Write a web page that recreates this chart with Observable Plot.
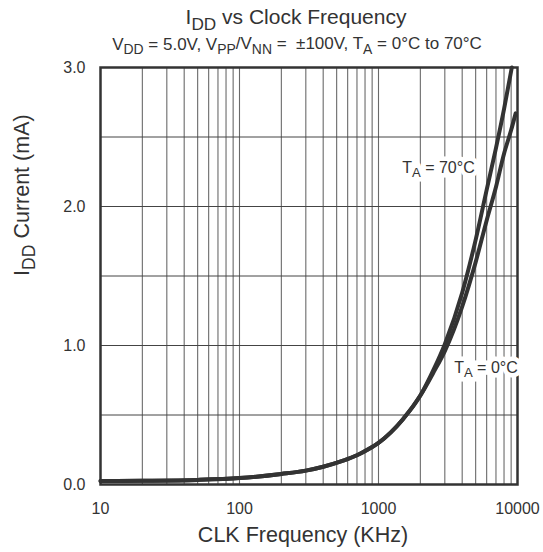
<!DOCTYPE html>
<html>
<head>
<meta charset="utf-8">
<script src="https://cdn.jsdelivr.net/npm/d3@7"></script>
<script src="https://cdn.jsdelivr.net/npm/@observablehq/plot@0.6"></script>
<style>
  html, body { margin: 0; padding: 0; background: #fff; }
  svg text { font-family: "Liberation Sans", Arial, sans-serif; }
</style>
</head>
<body>
<div id="chart"></div>
<script>
// ---- data ----
const freqShared = [10, 20, 50, 100, 200, 300, 400, 550, 700, 850, 1000, 1500, 2000];
const currShared = [0.025, 0.027, 0.033, 0.046, 0.076, 0.10, 0.128, 0.17, 0.21, 0.255, 0.30, 0.47, 0.64];

const freq70 = [2500, 3000, 4000, 5000, 6000, 7000, 8000, 9100];
const curr70 = [0.83, 1.01, 1.38, 1.76, 2.12, 2.42, 2.70, 3.0];

const freq0 = [2500, 3000, 4000, 5000, 6000, 7000, 8000, 9000, 9700];
const curr0 = [0.81, 0.96, 1.28, 1.60, 1.90, 2.14, 2.38, 2.55, 2.67];

const xTicks = [10, 100, 1000, 10000];
const yTicks = [0, 1, 2, 3];
const yGrid = [0.5, 1, 1.5, 2, 2.5];
const xGrid = [20,30,40,50,60,70,80,90,100,200,300,400,500,600,700,800,900,1000,2000,3000,4000,5000,6000,7000,8000,9000];

const title = "I_{DD} vs Clock Frequency";
const subtitle = "V_{DD} = 5.0V, V_{PP}/V_{NN} =  ±100V, T_{A} = 0°C to 70°C";
const xLabel = "CLK Frequency (KHz)";
const yLabel = "I_{DD} Current (mA)";
const labelNames = ["T_{A} = 70°C", "T_{A} = 0°C"];
const labelFreq = [2700, 5930];
const labelCurr = [2.28, 0.84];

// ---- build tables ----
const toPts = (fs, cs, s) => fs.map((f, i) => ({f, c: cs[i], s}));
const series = [
  ...toPts([...freqShared, ...freq70], [...currShared, ...curr70], "70"),
  ...toPts([...freqShared, ...freq0], [...currShared, ...curr0], "0")
];
const labels = labelNames.map((name, i) => ({name, f: labelFreq[i], v: labelCurr[i]}));

const ink = "#333";

const plot = Plot.plot({
  width: 543,
  height: 552,
  marginLeft: 100,
  marginRight: 26,
  marginTop: 67,
  marginBottom: 68,
  x: {type: "log", domain: [10, 10000]},
  y: {domain: [0, 3]},
  style: {fontFamily: "Liberation Sans, Arial, sans-serif", color: ink, background: "#fff"},
  marks: [
    Plot.ruleX(xGrid, {stroke: "#6a6a6a", strokeWidth: 1.1, strokeOpacity: 1}),
    Plot.ruleY(yGrid, {stroke: "#444", strokeWidth: 1, strokeOpacity: 1}),
    Plot.line(series, {x: "f", y: "c", z: "s", stroke: ink, strokeWidth: 4, curve: "monotone-x"}),
    Plot.frame({stroke: ink, strokeWidth: 2.5}),
    Plot.text(labels, {x: "f", y: "v", text: "name", fontSize: 16, fill: ink,
      stroke: "white", strokeWidth: 9, strokeLinejoin: "miter", paintOrder: "stroke"}),
    Plot.axisX({ticks: xTicks, tickFormat: d => String(d), tickSize: 0, tickPadding: 18,
      fontSize: 16, label: null}),
    Plot.axisY({ticks: yTicks, tickFormat: d => d.toFixed(1), tickSize: 0, tickPadding: 15,
      fontSize: 16, label: null}),
    Plot.text([xLabel], {frameAnchor: "bottom", dx: -6, dy: 57, fontSize: 21.5, fill: ink}),
    Plot.text([yLabel], {frameAnchor: "left", dx: -78, dy: 0, rotate: -90, fontSize: 21.5, fill: ink}),
    Plot.text([title], {frameAnchor: "top", dx: -13, dy: -58, fontSize: 21, fill: ink}),
    Plot.text([subtitle], {frameAnchor: "top", dx: -12, dy: -30, fontSize: 17, fill: ink})
  ]
});

document.getElementById("chart").appendChild(plot);

// ---- subscripts: convert X_{sub} into tspans ----
const SVGNS = "http://www.w3.org/2000/svg";
plot.querySelectorAll("text").forEach(el => {
  const t = el.textContent;
  if (!t.includes("_{")) return;
  while (el.firstChild) el.removeChild(el.firstChild);
  const parts = t.split(/(_\{[^}]*\})/);
  let lowered = false;
  parts.forEach(p => {
    if (!p) return;
    const ts = document.createElementNS(SVGNS, "tspan");
    if (p.startsWith("_{")) {
      ts.textContent = p.slice(2, -1);
      ts.setAttribute("font-size", "82%");
      ts.setAttribute("dy", "0.3em");
      lowered = true;
    } else {
      ts.textContent = p;
      if (lowered) { ts.setAttribute("dy", "-0.25em"); lowered = false; }
    }
    el.appendChild(ts);
  });
});
</script>
</body>
</html>
